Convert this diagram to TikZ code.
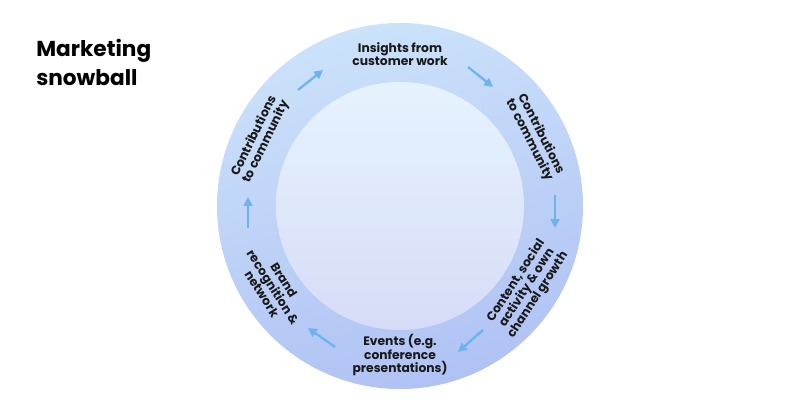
\documentclass[tikz,border=0pt]{standalone}
\usepackage{fontspec}
\setmainfont{Poppins}
\usetikzlibrary{arrows.meta}

\definecolor{ringtop}{HTML}{CBE2FA}
\definecolor{ringbot}{HTML}{B0C2F4}
\definecolor{coretop}{HTML}{E6F3FE}
\definecolor{corebot}{HTML}{D6DCF7}
\definecolor{flowblue}{HTML}{6DB3F2}

\tikzset{
  steplabel/.style={font=\fontsize{7}{7.4}\selectfont\bfseries, align=center, inner sep=0pt, text=black!90},
  titlelabel/.style={font=\fontsize{12.3}{14}\selectfont\bfseries, anchor=base west, inner sep=0pt},
  flow/.style={flowblue, line width=1.3pt, -{Triangle[length=5pt,width=5pt]}}
}

\begin{document}
\begin{tikzpicture}
\fill[white] (-8,-4.12) rectangle (8,4.12);
\useasboundingbox (-8,-4.12) rectangle (8,4.12);

% the ball
\shade[top color=ringtop, bottom color=ringbot, shading angle=15] (0,0) circle (3.66);
\shade[top color=coretop, bottom color=corebot] (0,0) circle (2.48);

\node[titlelabel] (title1) at (-7.28,2.98) {Marketing};
\node[titlelabel] (title2) at (-7.28,2.40) {snowball};

\node[steplabel] (insights) at (0,3.04) {Insights from\\customer work};
\node[steplabel, rotate=-63] (contribr) at (2.70,1.38) {Contributions\\to community};
\node[steplabel, rotate=57] (content) at (2.54,-1.64) {Content, social\\activity \& own\\channel growth};
\node[steplabel] (events) at (0,-2.98) {Events (e.g.\\conference\\presentations)};
\node[steplabel, rotate=-57.5] (brand) at (-2.54,-1.62) {Brand\\recognition \&\\network};
\node[steplabel, rotate=64] (contribl) at (-2.80,1.34) {Contributions\\to community};

\coordinate (a1s) at (-2.04,2.32);
\coordinate (a1e) at (-1.54,2.72);
\coordinate (a2s) at (1.36,2.78);
\coordinate (a2e) at (1.86,2.38);
\coordinate (a3s) at (3.10,0.22);
\coordinate (a3e) at (3.10,-0.44);
\coordinate (a4s) at (1.66,-2.48);
\coordinate (a4e) at (1.16,-2.92);
\coordinate (a5s) at (-1.30,-2.82);
\coordinate (a5e) at (-1.84,-2.44);
\coordinate (a6s) at (-3.04,-0.44);
\coordinate (a6e) at (-3.04,0.18);

\draw[flow] (a1s) -- (a1e);
\draw[flow] (a2s) -- (a2e);
\draw[flow] (a3s) -- (a3e);
\draw[flow] (a4s) -- (a4e);
\draw[flow] (a5s) -- (a5e);
\draw[flow] (a6s) -- (a6e);

\end{tikzpicture}
\end{document}
